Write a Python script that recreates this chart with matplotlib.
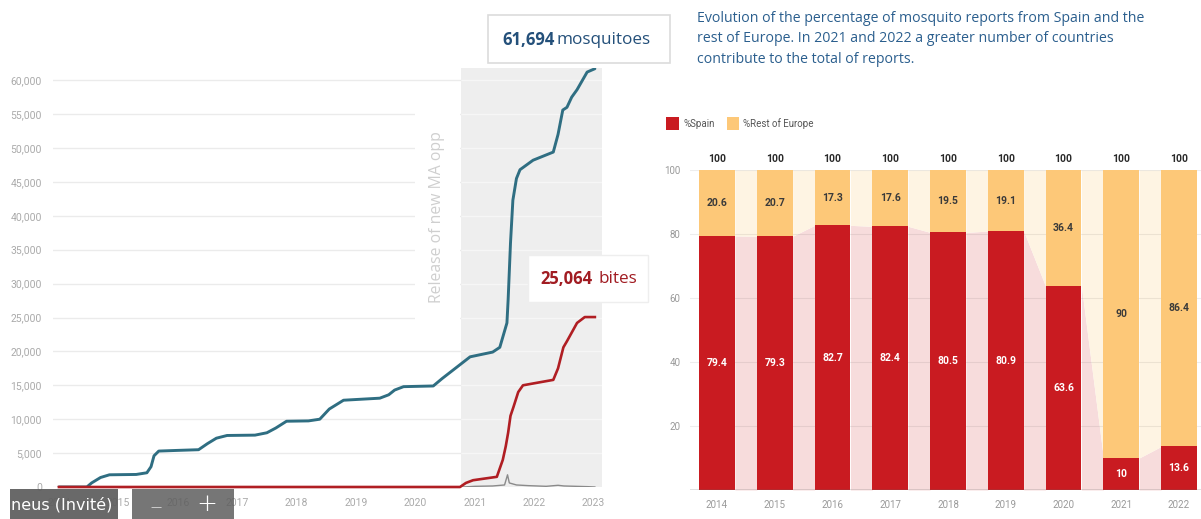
import numpy as np
import matplotlib.pyplot as plt
from matplotlib.patches import Rectangle

# cumulative reports (left chart)
mosq_t = [2014.00, 2014.47, 2014.55, 2014.70, 2014.85, 2015.30, 2015.48, 2015.55, 2015.60, 2015.68,
          2016.00, 2016.35, 2016.50, 2016.65, 2016.83, 2017.30, 2017.50, 2017.65, 2017.83, 2018.20,
          2018.39, 2018.55, 2018.79, 2019.40, 2019.55, 2019.65, 2019.80, 2020.30, 2020.45, 2020.70,
          2020.92, 2021.30, 2021.42, 2021.54, 2021.56, 2021.60, 2021.64, 2021.70, 2021.76, 2021.98,
          2022.32, 2022.40, 2022.48, 2022.55, 2022.63, 2022.72, 2022.89, 2023.02]
mosq_v = [0, 0, 600, 1400, 1800, 1850, 2100, 3000, 4600, 5300,
          5400, 5500, 6400, 7200, 7600, 7650, 8000, 8700, 9700, 9750,
          10000, 11500, 12800, 13100, 13600, 14300, 14800, 14900, 16000, 17700,
          19200, 19900, 20600, 24200, 27600, 36000, 42300, 45500, 46800, 48200,
          49400, 52000, 55600, 56000, 57500, 58600, 61200, 61694]

bites_t = [2014.00, 2020.75, 2020.85, 2020.97, 2021.37, 2021.47, 2021.52, 2021.56, 2021.60, 2021.65,
           2021.73, 2021.81, 2022.00, 2022.32, 2022.40, 2022.49, 2022.55, 2022.72, 2022.85, 2023.02]
bites_v = [0, 0, 600, 1000, 1500, 4000, 6000, 8000, 10500, 11800,
           14000, 15000, 15300, 15800, 17500, 20600, 21500, 24200, 25064, 25064]

daily_t = [2020.80, 2021.00, 2021.30, 2021.50, 2021.55, 2021.58, 2021.70, 2021.90, 2022.20, 2022.40,
           2022.50, 2022.90, 2023.02]
daily_v = [0, 100, 150, 300, 1800, 600, 300, 200, 100, 250, 150, 50, 0]

release_date = 2020.77
years_left = list(range(2014, 2024))

# share of reports (right chart)
years = ["2014", "2015", "2016", "2017", "2018", "2019", "2020", "2021", "2022"]
spain = [79.4, 79.3, 82.7, 82.4, 80.5, 80.9, 63.6, 10, 13.6]
rest = [20.6, 20.7, 17.3, 17.6, 19.5, 19.1, 36.4, 90, 86.4]
totals = [100] * len(years)

W, H = 1201, 519
fig = plt.figure(figsize=(W / 100, H / 100), dpi=100)

def fx(px):
    return px / W

def fy(py):
    return 1 - py / H

# ---------------- left chart ----------------
ax = fig.add_axes([fx(53), fy(487), fx(602) - fx(53), fy(68) - fy(487)])
xmax = 2023.14
ax.set_xlim(2013.9, xmax)
ax.set_ylim(0, 61800)
ax.axvspan(release_date, xmax, color="#eeeeee", zorder=0.6, lw=0)
ticks_y = list(range(0, 60001, 5000))
ax.set_yticks(ticks_y)
ax.set_yticklabels([f"{v:,}" for v in ticks_y])
ax.set_xticks(years_left)
ax.set_xticklabels([str(y) for y in years_left])
ax.grid(axis="y", color="#ebebeb", lw=1, zorder=0.5)
# lighter gridlines inside the shaded period
ax.hlines(ticks_y[1:], release_date, xmax, color="#f6f6f6", lw=1, zorder=0.7)
ax.set_axisbelow(True)
for s in ax.spines.values():
    s.set_visible(False)
ax.tick_params(length=0, labelsize=7.5, labelcolor="#aaaaaa", pad=8)
for lab in ax.get_xticklabels() + ax.get_yticklabels():
    lab.set_family("Roboto")

# white patch behind the rotated label cuts the gridlines
fig.patches.append(Rectangle((fx(415), fy(322)), fx(460) - fx(415), fy(98) - fy(322),
                             transform=fig.transFigure, facecolor="white", edgecolor="none",
                             zorder=1))
ax.set_zorder(0)
ax.patch.set_alpha(0)
fig.text(fx(437), fy(217), "Release of new MA opp", rotation=90, ha="center", va="center",
         fontsize=11.3, color="#cfcfcf", family="Open Sans", zorder=2)

ax.plot(daily_t, daily_v, color="#8a8a8a", lw=1, zorder=2)
ax.plot(mosq_t, mosq_v, color="#2f6e82", lw=2.1, zorder=3, solid_capstyle="round")
ax.plot(bites_t, bites_v, color="#b01e23", lw=1.9, zorder=4, clip_on=False)

# callouts
fig.patches.append(Rectangle((fx(488), fy(63)), fx(670) - fx(488), fy(15) - fy(63),
                             transform=fig.transFigure, facecolor="white", edgecolor="#dcdcdc",
                             lw=1.2, zorder=5))
fig.text(fx(502), fy(40), f"{mosq_v[-1]:,}", fontsize=12, fontweight="bold", color="#24507a",
         family="Open Sans", va="center", zorder=6)
fig.text(fx(557), fy(40), "mosquitoes", fontsize=12.3, color="#24507a",
         family="Open Sans", va="center", zorder=6)

fig.patches.append(Rectangle((fx(528), fy(302)), fx(648) - fx(528), fy(255) - fy(302),
                             transform=fig.transFigure, facecolor="white", edgecolor="#eeeeee",
                             lw=1, zorder=5))
fig.text(fx(540), fy(279), f"{bites_v[-1]:,}", fontsize=12, fontweight="bold", color="#a11c22",
         family="Open Sans", va="center", zorder=6)
fig.text(fx(598), fy(279), "bites", fontsize=12.3, color="#a11c22",
         family="Open Sans", va="center", zorder=6)

# ---------------- right chart ----------------
fig.text(fx(697), fy(39), "Evolution of the percentage of mosquito reports from Spain and the\n"
         "rest of Europe. In 2021 and 2022 a greater number of countries\n"
         "contribute to the total of reports.", fontsize=10.2, color="#2b5f8e",
         family="Open Sans", va="center", ha="left", linespacing=1.5)

bx = fig.add_axes([fx(690), fy(490), fx(1201) - fx(690), fy(170) - fy(490)])
x = np.arange(len(years))
bw = 0.62
bx.set_xlim(-0.4675, 8.38)
bx.set_ylim(0, 100)

for i in range(len(years) - 1):
    xs = [i + bw / 2, i + 1 - bw / 2]
    bx.fill_between(xs, [0, 0], [spain[i], spain[i + 1]], color="#f7dcdc", lw=0, zorder=1)
    bx.fill_between(xs, [spain[i], spain[i + 1]], [100, 100], color="#fef4e3", lw=0, zorder=1)

bx.bar(x, spain, width=bw, color="#c91b21", zorder=3)
bx.bar(x, rest, width=bw, bottom=spain, color="#fdc878", zorder=3)

for i in range(len(years)):
    bx.text(x[i], spain[i] / 2, f"{spain[i]:g}", ha="center", va="center", color="white",
            fontsize=7.5, fontweight="bold", family="Roboto", zorder=4)
    bx.text(x[i], spain[i] + rest[i] / 2, f"{rest[i]:g}", ha="center", va="center",
            color="#3a3a3a", fontsize=7.5, fontweight="bold", family="Roboto", zorder=4)
    bx.text(x[i], totals[i] + 3.5, f"{totals[i]}", ha="center", va="center",
            color="#2a2a2a", fontsize=7.5, fontweight="bold", family="Roboto", zorder=4,
            clip_on=False)

bx.set_yticks([20, 40, 60, 80, 100])
bx.grid(axis="y", color="#000000", alpha=0.07, lw=0.8, zorder=2)
bx.set_axisbelow(False)
bx.set_xticks(x)
bx.set_xticklabels(years)
for s in bx.spines.values():
    s.set_visible(False)
bx.axhline(0, color="#666666", lw=1, zorder=5)
bx.tick_params(length=0, labelsize=7, labelcolor="#999999", pad=7)
for lab in bx.get_xticklabels() + bx.get_yticklabels():
    lab.set_family("Roboto")

# legend
fig.patches.append(Rectangle((fx(666), fy(130)), fx(679) - fx(666), fy(117) - fy(130),
                             transform=fig.transFigure, facecolor="#c91b21", edgecolor="none"))
fig.text(fx(684), fy(124), "%Spain", fontsize=7, color="#555555", family="Roboto", va="center")
fig.patches.append(Rectangle((fx(727), fy(130)), fx(739) - fx(727), fy(117) - fy(130),
                             transform=fig.transFigure, facecolor="#fdc878", edgecolor="none"))
fig.text(fx(743), fy(124), "%Rest of Europe", fontsize=7, color="#555555", family="Roboto",
         va="center")

# screen-share overlay at the bottom left
fig.patches.append(Rectangle((fx(10), 0), fx(118) - fx(10), fy(489), transform=fig.transFigure,
                             facecolor="#5e5e5e", alpha=0.93, edgecolor="none", zorder=10))
fig.patches.append(Rectangle((fx(132), 0), fx(234) - fx(132), fy(489), transform=fig.transFigure,
                             facecolor="#5e5e5e", alpha=0.85, edgecolor="none", zorder=10))
fig.text(fx(11), fy(505), "neus (Invité)", fontsize=11.5, color="white", family="DejaVu Sans",
         va="center", zorder=11)
fig.text(fx(156), fy(507), "—", fontsize=8, color="#dddddd", ha="center", va="center", zorder=11)
fig.text(fx(207), fy(504), "+", fontsize=18, color="white", ha="center", va="center",
         fontweight="light", zorder=11)

fig.savefig("out.png", dpi=100)
